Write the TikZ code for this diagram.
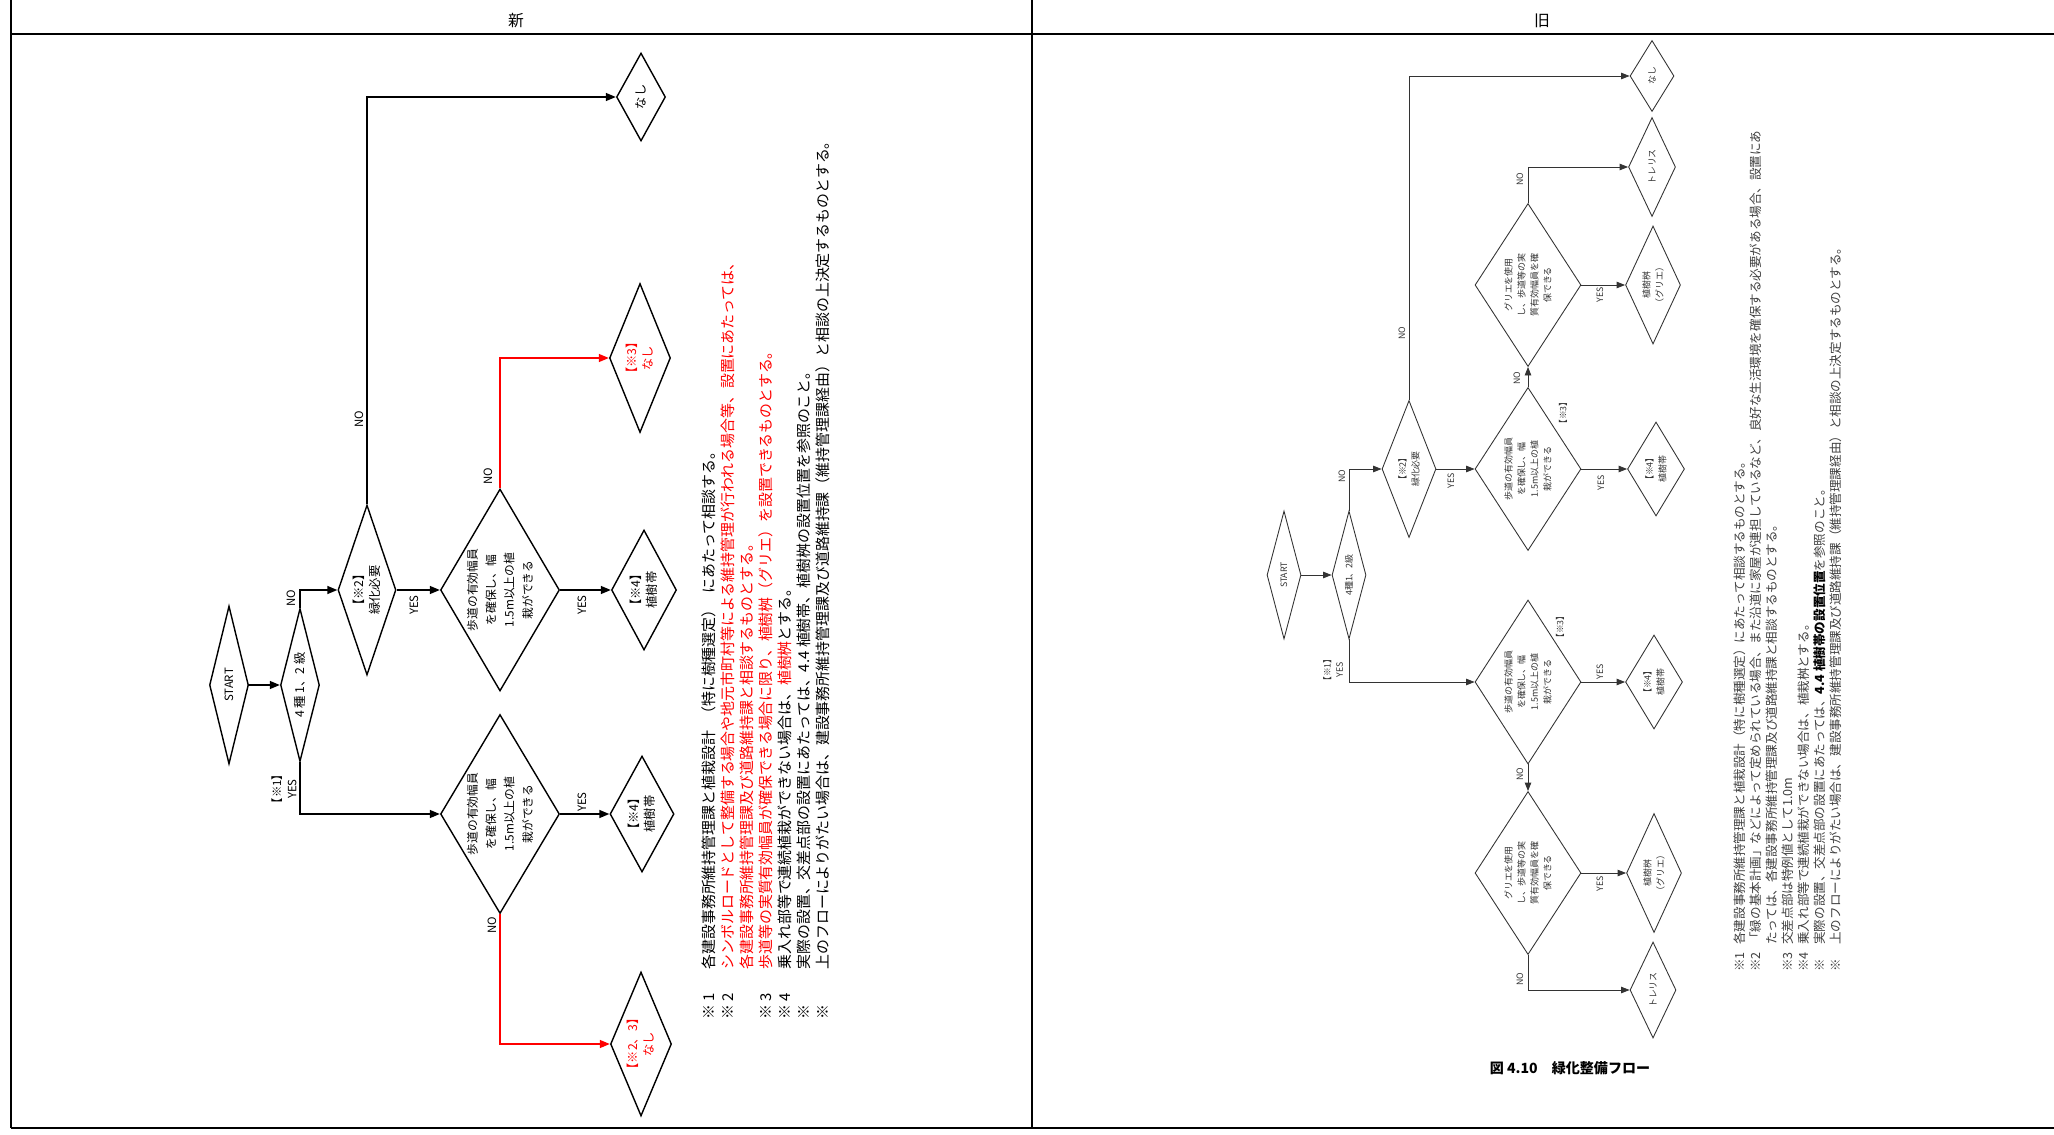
\documentclass[tikz,border=0pt]{standalone}
\usepackage{fontspec}
\setmainfont{Noto Sans CJK JP}
\usetikzlibrary{shapes.geometric,arrows.meta}
\newcommand\myfs[2]{\fontsize{#1}{#2}\selectfont}
\tikzset{
  dia/.style 2 args={diamond, draw, line width=0.8pt, inner sep=0pt,
    minimum width={#1*0.02cm}, minimum height={#2*0.02cm}},
  odia/.style 2 args={diamond, draw=black!80, line width=0.5pt, inner sep=0pt,
    minimum width={#1*0.02cm}, minimum height={#2*0.02cm}},
  conn/.style={draw, line width=0.8pt, -{Triangle[length=0.2cm,width=0.16cm]}},
  rconn/.style={conn, draw=red},
  oconn/.style={draw=black!80, line width=0.5pt, -{Triangle[length=0.17cm,width=0.13cm]}},
  ttxt/.style={rotate=90, align=center, inner sep=0pt, font={\myfs{7}{9.2}}},
  htxt/.style={rotate=90, align=center, inner sep=0pt, font={\myfs{6.7}{10.5}}},
  otxt/.style={rotate=90, align=center, inner sep=0pt, text=black!80, font={\myfs{5.1}{7.4}}},
  lab/.style={rotate=90, align=center, inner sep=0pt, font={\myfs{6.5}{8.7}}},
  olab/.style={rotate=90, align=center, inner sep=0pt, text=black!80, font={\myfs{5}{7}}},
  note/.style={rotate=90, anchor=west, inner sep=0pt, font={\myfs{8.5}{10}}},
  onote/.style={rotate=90, anchor=west, inner sep=0pt, text=black!75, font={\myfs{7.15}{9}}},
}
\begin{document}
\begin{tikzpicture}[x=0.02cm,y=-0.02cm]
\useasboundingbox (0,0) rectangle (2054,1135);
% frame
\draw[line width=0.6pt] (11,0) -- (11,1128);
\draw[line width=0.6pt] (1032,0) -- (1032,1128);
\draw[line width=1.7pt] (11,34) -- (2054,34);
\draw[line width=0.6pt] (11,1128) -- (2054,1128);
\node[font={\myfs{9}{10}}] (hnew) at (516,21) {新};
\node[font={\myfs{9}{10}}] (hold) at (1542,21) {旧};

% ================= NEW (left) =================
\node[dia={39}{158}] (start) at (229,685) {};
\node[lab] at (start) {START};
\node[dia={39}{153}] (kyu) at (300,685) {};
\node[ttxt] at (kyu) {4 種 1、2 級};
\node[dia={58}{170}] (ryoku) at (367,590) {};
\node[ttxt] at (ryoku) {【※2】\\緑化必要};
\node[dia={119}{202}] (hodo1) at (500,590) {};
\node[htxt] at (hodo1) {歩道の有効幅員\\を確保し、幅\\1.5m以上の植\\栽ができる};
\node[dia={65}{120}] (jyu1) at (644,590) {};
\node[ttxt] at (jyu1) {【※4】\\植樹帯};
\node[dia={49}{88}] (nasi1) at (641,97) {};
\node[ttxt] at (nasi1) {なし};
\node[dia={61}{149}] (nasi3) at (640,358) {};
\node[ttxt, text=red] at (nasi3) {【※3】\\なし};
\node[dia={119}{199}] (hodo2) at (500,814) {};
\node[htxt] at (hodo2) {歩道の有効幅員\\を確保し、幅\\1.5m以上の植\\栽ができる};
\node[dia={64}{116}] (jyu2) at (642,814) {};
\node[ttxt] at (jyu2) {【※4】\\植樹帯};
\node[dia={61}{144}] (nasi23) at (641,1044) {};
\node[ttxt, text=red] at (nasi23) {【※2、3】\\なし};

\draw[conn] (start.east) -- (kyu.west);
\draw[conn] (kyu.north) |- (ryoku.west);
\draw[conn] (ryoku.north) |- (nasi1.west);
\draw[conn] (ryoku.east) -- (hodo1.west);
\draw[rconn] (hodo1.north) |- (nasi3.west);
\draw[conn] (hodo1.east) -- (jyu1.west);
\draw[conn] (kyu.south) |- (hodo2.west);
\draw[conn] (hodo2.east) -- (jyu2.west);
\draw[rconn] (hodo2.south) |- (nasi23.west);

\node[lab] at (291,598) {NO};
\node[lab] at (359,419) {NO};
\node[lab] at (414,605) {YES};
\node[lab] at (488,476) {NO};
\node[lab] at (582,605) {YES};
\node[lab] at (284,789) {【※1】\\YES};
\node[lab] at (582,802) {YES};
\node[lab] at (492,925) {NO};

% notes (new)
\node[note] (m1) at (709,1020) {※ 1};
\node[note] (t1) at (709,970) {各建設事務所維持管理課と植栽設計\hspace{0.6em}（特に樹種選定）\hspace{0.6em}にあたって相談する。};
\node[note] (m2) at (728,1020) {※ 2};
\node[note, text=red] (t2) at (728,970) {シンボルロードとして整備する場合や地元市町村等による維持管理が行われる場合等、設置にあたっては、};
\node[note, text=red] (t3) at (747,970) {各建設事務所維持管理課及び道路維持課と相談するものとする。};
\node[note] (m3) at (766,1020) {※ 3};
\node[note, text=red] (t4) at (766,970) {歩道等の実質有効幅員が確保できる場合に限り、植樹桝（グリエ）を設置できるものとする。};
\node[note] (m4) at (785,1020) {※ 4};
\node[note] (t5) at (785,970) {乗入れ部等で連続植栽ができない場合は、{\color{red}植樹桝}とする。};
\node[note] (m5) at (804,1020) {※};
\node[note] (t6) at (804,970) {実際の設置、交差点部の設置にあたっては、4.4 植樹帯、植樹桝の設置位置を参照のこと。};
\node[note] (m6) at (823,1020) {※};
\node[note] (t7) at (823,970) {上のフローによりがたい場合は、建設事務所維持管理課及び道路維持課（維持管理課経由）と相談の上決定するものとする。};

% ================= OLD (right) =================
\node[odia={34}{128}] (ostart) at (1284,575) {};
\node[olab] at (ostart) {START};
\node[odia={34}{128}] (okyu) at (1349,575) {};
\node[otxt] at (okyu) {4種1、2級};
\node[odia={54}{137}] (oryoku) at (1409,469) {};
\node[otxt] at (oryoku) {【※2】\\緑化必要};
\node[odia={106}{163}] (ohodo1) at (1528,469) {};
\node[otxt] at (ohodo1) {歩道の有効幅員\\を確保し、幅\\1.5m以上の植\\栽ができる};
\node[odia={57}{94}] (ojyu1) at (1656,469) {};
\node[otxt] at (ojyu1) {【※4】\\植樹帯};
\node[odia={106}{163}] (ogri1) at (1528,285) {};
\node[otxt] at (ogri1) {グリエを使用\\し、歩道等の実\\質有効幅員を確\\保できる};
\node[odia={55}{118}] (omasu1) at (1653,285) {};
\node[otxt] at (omasu1) {植樹桝\\（グリエ）};
\node[odia={47}{99}] (otore1) at (1652,167) {};
\node[otxt] at (otore1) {トレリス};
\node[odia={44}{71}] (onasi) at (1652,76) {};
\node[otxt] at (onasi) {なし};
\node[odia={106}{164}] (ohodo2) at (1528,682) {};
\node[otxt] at (ohodo2) {歩道の有効幅員\\を確保し、幅\\1.5m以上の植\\栽ができる};
\node[odia={57}{94}] (ojyu2) at (1654,682) {};
\node[otxt] at (ojyu2) {【※4】\\植樹帯};
\node[odia={106}{163}] (ogri2) at (1528,873) {};
\node[otxt] at (ogri2) {グリエを使用\\し、歩道等の実\\質有効幅員を確\\保できる};
\node[odia={55}{119}] (omasu2) at (1654,873) {};
\node[otxt] at (omasu2) {植樹桝\\（グリエ）};
\node[odia={46}{96}] (otore2) at (1653,990) {};
\node[otxt] at (otore2) {トレリス};

\draw[oconn] (ostart.east) -- (okyu.west);
\draw[oconn] (okyu.north) |- (oryoku.west);
\draw[oconn] (oryoku.north) |- (onasi.west);
\draw[oconn] (oryoku.east) -- (ohodo1.west);
\draw[oconn] (ohodo1.east) -- (ojyu1.west);
\draw[oconn] (ohodo1.north) -- (ogri1.south);
\draw[oconn] (ogri1.north) |- (otore1.west);
\draw[oconn] (ogri1.east) -- (omasu1.west);
\draw[oconn] (okyu.south) |- (ohodo2.west);
\draw[oconn] (ohodo2.east) -- (ojyu2.west);
\draw[oconn] (ohodo2.south) -- (ogri2.north);
\draw[oconn] (ogri2.east) -- (omasu2.west);
\draw[oconn] (ogri2.south) |- (otore2.west);

\node[olab] at (1342,476) {NO};
\node[olab] at (1451,481) {YES};
\node[olab] at (1402,333) {NO};
\node[olab] at (1517,378) {NO};
\node[olab] at (1563,413) {【※3】};
\node[olab] at (1600,295) {YES};
\node[olab] at (1520,179) {NO};
\node[olab] at (1601,483) {YES};
\node[olab] at (1333,670) {【※1】\\YES};
\node[olab] at (1600,672) {YES};
\node[olab] at (1560,627) {【※3】};
\node[olab] at (1520,774) {NO};
\node[olab] at (1600,884) {YES};
\node[olab] at (1520,979) {NO};

\node[font={\bfseries\myfs{8}{10}}] (title) at (1570,1068) {図 4.10\quad 緑化整備フロー};

% notes (old)
\node[onote] (om1) at (1740,972) {※1};
\node[onote] (ot1) at (1740,945) {各建設事務所維持管理課と植栽設計（特に樹種選定）にあたって相談するものとする。};
\node[onote] (om2) at (1756,972) {※2};
\node[onote] (ot2) at (1756,945) {「緑の基本計画」などによって定められている場合、また沿道に家屋が連担しているなど、良好な生活環境を確保する必要がある場合、設置にあ};
\node[onote] (ot3) at (1772,945) {たっては、各建設事務所維持管理課及び道路維持課と相談するものとする。};
\node[onote] (om3) at (1788,972) {※3};
\node[onote] (ot4) at (1788,945) {交差点部は特例値として1.0m};
\node[onote] (om4) at (1804,972) {※4};
\node[onote] (ot5) at (1804,945) {乗入れ部等で連続植栽ができない場合は、植栽桝とする。};
\node[onote] (om5) at (1820,972) {※};
\node[onote] (ot6) at (1820,945) {実際の設置、交差点部の設置にあたっては、{\color{black}\bfseries 4.4 植樹帯の設置位置}を参照のこと。};
\node[onote] (om6) at (1836,972) {※};
\node[onote] (ot7) at (1836,945) {上のフローによりがたい場合は、建設事務所維持管理課及び道路維持課（維持管理課経由）と相談の上決定するものとする。};
\end{tikzpicture}
\end{document}
